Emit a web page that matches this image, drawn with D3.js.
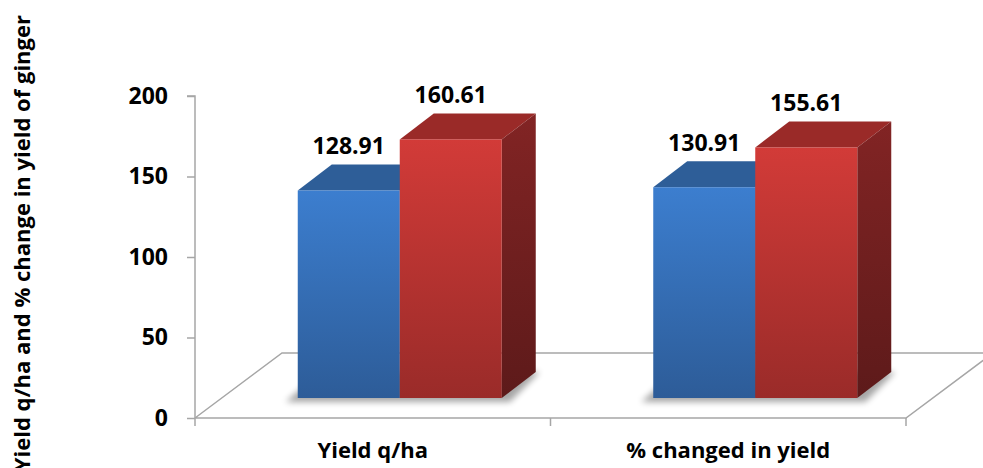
<!DOCTYPE html>
<html>
<head>
<meta charset="utf-8">
<script src="https://cdn.jsdelivr.net/npm/d3@7"></script>
<style>
  body { margin: 0; background: #fff; }
  svg { display: block; font-family: "Open Sans", "Noto Sans", sans-serif; font-weight: bold; }
</style>
</head>
<body>
<svg id="chart" width="983" height="468"></svg>
<script>
// data
const categories = ["Yield q/ha", "% changed in yield"];
const series = ["before", "after"];
const beforeValues = [128.91, 130.91];
const afterValues = [160.61, 155.61];
const yTicks = [0, 50, 100, 150, 200];
const yTitle = "Yield q/ha and % change in yield of ginger";

const svg = d3.select("#chart");

// front plane of the 3d box
const left = 195, right = 906, base = 418;
const floorDx = 87, floorDy = -65;
// bars sit partly back in the box
const barDx0 = 27, barDy0 = -20, barDx = 34, barDy = -26;

const Y = d3.scaleLinear().domain([0, 200]).range([base, base - 322]);
const X = d3.scaleBand().domain(categories).range([left, right]);
const XS = d3.scaleBand().domain(series).range([-102, 102]);

const rows = categories.map((c, i) => ({cat: c, vals: [
  {s: "before", v: beforeValues[i]},
  {s: "after", v: afterValues[i]}
]}));

const colors = {
  before: {top: "#2e5e98", front0: "#3c7ecf", front1: "#2d5c98", side0: "#244c80", side1: "#1c3a63"},
  after: {top: "#9a2a28", front0: "#d23b38", front1: "#9a2b29", side0: "#822424", side1: "#5d1a1a"}
};

const defs = svg.append("defs");
series.forEach(s => {
  const g1 = defs.append("linearGradient").attr("id", "front-" + s)
    .attr("x1", 0).attr("y1", 0).attr("x2", 0).attr("y2", 1);
  g1.append("stop").attr("offset", "0%").attr("stop-color", colors[s].front0);
  g1.append("stop").attr("offset", "100%").attr("stop-color", colors[s].front1);
  const g2 = defs.append("linearGradient").attr("id", "side-" + s)
    .attr("x1", 0).attr("y1", 0).attr("x2", 0).attr("y2", 1);
  g2.append("stop").attr("offset", "0%").attr("stop-color", colors[s].side0);
  g2.append("stop").attr("offset", "100%").attr("stop-color", colors[s].side1);
});
defs.append("filter").attr("id", "blur").attr("x", "-20%").attr("y", "-50%").attr("width", "140%").attr("height", "200%")
  .append("feGaussianBlur").attr("stdDeviation", 3);

// floor
const grid = "#a6a6a6";
const floor = svg.append("g").attr("fill", "none").attr("stroke", grid).attr("stroke-width", 1.5);
floor.append("path").attr("d", d3.line()([
  [left, base], [left + floorDx, base + floorDy], [right + floorDx, base + floorDy], [right, base], [left, base]
]));

// y axis
const yAxis = svg.append("g").attr("transform", `translate(${left},0)`)
  .call(d3.axisLeft(Y).tickValues(yTicks).tickSize(8).tickPadding(19));
yAxis.select(".domain").attr("stroke", grid).attr("stroke-width", 1.5).attr("d", `M-8,${Y(200)}H0V${base}`);
yAxis.selectAll(".tick line").attr("stroke", grid).attr("stroke-width", 1.5);
yAxis.selectAll(".tick text").attr("fill", "#000").attr("font-size", 23)
  .attr("font-family", "'Open Sans', sans-serif").attr("font-weight", "bold");

// x ticks at category boundaries
const xEdges = categories.map(c => X(c)).concat([X.range()[1]]);
svg.append("g").selectAll("line").data(xEdges).join("line")
  .attr("x1", d => d).attr("x2", d => d).attr("y1", base).attr("y2", base + 8)
  .attr("stroke", grid).attr("stroke-width", 1.5);

svg.append("g").selectAll("text").data(categories).join("text")
  .attr("x", c => X(c) + X.bandwidth() / 2)
  .attr("y", 458)
  .attr("text-anchor", "middle")
  .attr("font-size", 22)
  .text(c => c);

// bars
const groups = svg.append("g").selectAll("g").data(rows).join("g");

// soft shadow on the floor
groups.append("path")
  .attr("d", r => {
    const cx = X(r.cat) + X.bandwidth() / 2 + barDx0;
    const x0 = cx + XS("before") - 12, x1 = cx + XS("after") + XS.bandwidth() + barDx;
    const yb = base + barDy0;
    return d3.line()([[x0, yb + 4], [x1 - barDx + 8, yb + 4], [x1 + 4, yb + barDy], [x0 + barDx, yb + barDy]]);
  })
  .attr("fill", "#000").attr("opacity", 0.35).attr("filter", "url(#blur)");

groups.each(function(r) {
  const g = d3.select(this);
  const cx = X(r.cat) + X.bandwidth() / 2 + barDx0;
  r.vals.forEach(d => {
    const x0 = cx + XS(d.s), x1 = x0 + XS.bandwidth();
    const yb = Y(0) + barDy0, yt = Y(d.v) + barDy0;
    const bar = g.append("g");
    bar.append("path")
      .attr("d", d3.line()([[x0, yt], [x0 + barDx, yt + barDy], [x1 + barDx, yt + barDy], [x1, yt]]))
      .attr("fill", colors[d.s].top);
    bar.append("path")
      .attr("d", d3.line()([[x1, yt], [x1 + barDx, yt + barDy], [x1 + barDx, yb + barDy], [x1, yb]]))
      .attr("fill", `url(#side-${d.s})`);
    bar.append("rect")
      .attr("x", x0).attr("y", yt).attr("width", x1 - x0).attr("height", yb - yt)
      .attr("fill", `url(#front-${d.s})`);
    g.append("text")
      .attr("x", (x0 + x1) / 2)
      .attr("y", yt + barDy - 10)
      .attr("text-anchor", "middle")
      .attr("font-size", 23)
      .text(d.v.toFixed(2));
  });
});

// y title
svg.append("text")
  .attr("transform", "translate(30,15) rotate(-90)")
  .attr("text-anchor", "end")
  .attr("font-size", 22)
  .text(yTitle);
</script>
</body>
</html>
